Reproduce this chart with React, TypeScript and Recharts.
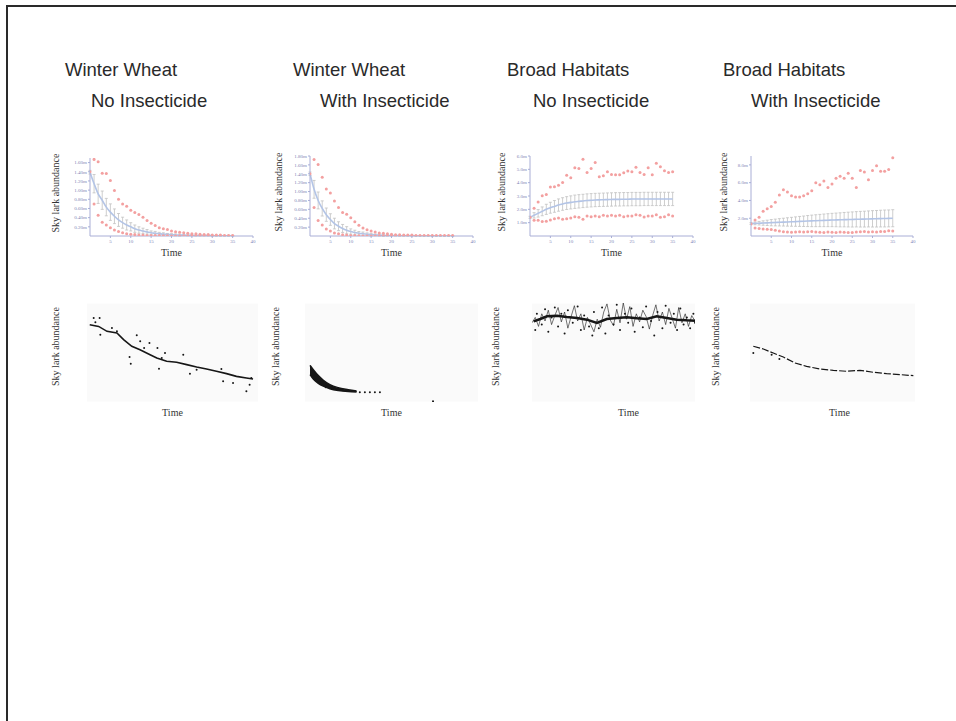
import { ComposedChart, Line, Area, XAxis, YAxis, ErrorBar, CartesianGrid } from 'recharts'

const SERIF = '"Liberation Serif", "Times New Roman", serif'
const SANS = '"Liberation Sans", Arial, sans-serif'
const AXIS = '#a9aed6'
const TICK = '#7d84b5'
const RED = '#f3a0a0'
const BLUE = '#b3c4e6'
const BAR = '#c2c2c2'
const INK = '#161616'

// panel titles
const titleTop = ['Winter Wheat', 'Winter Wheat', 'Broad Habitats', 'Broad Habitats']
const titleSub = ['No Insecticide', 'With Insecticide', 'No Insecticide', 'With Insecticide']

// simulation years (top row)
const T = [0, 1, 2, 3, 4, 5, 6, 7, 8, 9, 10, 11, 12, 13, 14, 15, 16, 17, 18, 19, 20, 21, 22, 23, 24, 25, 26, 27, 28, 29, 30, 31, 32, 33, 34, 35]
const xTicks = [5, 10, 15, 20, 25, 30, 35, 40]

// Winter wheat, no insecticide
const ww0Mean = [1.39, 1.14, 0.92, 0.78, 0.63, 0.52, 0.43, 0.35, 0.29, 0.24, 0.2, 0.16, 0.13, 0.11, 0.09, 0.07, 0.06, 0.05, 0.04, 0.035, 0.03, 0.025, 0.02, 0.02, 0.015, 0.015, 0.01, 0.01, 0.01, 0.01, 0.005, 0.005, 0.005, 0.005, 0.005, 0.005]
const ww0Err = [0.04, 0.2, 0.21, 0.2, 0.19, 0.18, 0.16, 0.14, 0.12, 0.11, 0.09, 0.08, 0.07, 0.06, 0.05, 0.04, 0.04, 0.03, 0.03, 0.02, 0.02, 0.02, 0.02, 0.01, 0.01, 0.01, 0.01, 0.01, 0.01, 0.01, 0.01, 0.01, 0.01, 0.01, 0.01, 0.01]
const ww0Hi = [1.4, 1.67, 1.62, 1.37, 1.36, 1.21, 0.99, 0.8, 0.7, 0.65, 0.56, 0.51, 0.47, 0.41, 0.34, 0.28, 0.23, 0.18, 0.16, 0.14, 0.11, 0.09, 0.08, 0.07, 0.06, 0.05, 0.05, 0.04, 0.03, 0.03, 0.02, 0.02, 0.02, 0.01, 0.01, 0.01]
const ww0Lo = [null, 0.7, 0.45, 0.3, 0.24, 0.18, 0.13, 0.1, 0.07, 0.05, 0.04, 0.03, 0.02, 0.02, 0.01, 0.01, 0.01, 0.01, 0.005, 0.005, 0, 0, 0, 0, 0, 0, 0, 0, 0, 0, 0, 0, 0, 0, 0, 0]

// Winter wheat, with insecticide
const ww1Mean = [1.4, 1.05, 0.8, 0.62, 0.48, 0.37, 0.28, 0.22, 0.17, 0.13, 0.1, 0.08, 0.06, 0.05, 0.04, 0.03, 0.025, 0.02, 0.015, 0.01, 0.01, 0.01, 0.005, 0.005, 0.005, 0.005, 0, 0, 0, 0, 0, 0, 0, 0, 0, 0]
const ww1Err = [0.04, 0.2, 0.19, 0.17, 0.15, 0.13, 0.12, 0.1, 0.09, 0.08, 0.06, 0.05, 0.04, 0.04, 0.03, 0.03, 0.02, 0.02, 0.02, 0.01, 0.01, 0.01, 0.01, 0.01, 0.01, 0.01, 0.01, 0.01, 0.01, 0.01, 0.01, 0.01, 0.01, 0.01, 0.01, 0.01]
const ww1Hi = [1.4, 1.72, 1.61, 1.32, 1.06, 0.97, 0.79, 0.64, 0.53, 0.49, 0.41, 0.32, 0.24, 0.18, 0.14, 0.11, 0.09, 0.07, 0.06, 0.05, 0.04, 0.03, 0.03, 0.02, 0.02, 0.02, 0.01, 0.01, 0.01, 0.01, 0.01, 0.01, 0.01, 0.01, 0.01, 0.01]
const ww1Lo = [null, 0.64, 0.35, 0.25, 0.16, 0.11, 0.07, 0.05, 0.03, 0.02, 0.01, 0.01, 0.005, 0, 0, 0, 0, 0, 0, 0, 0, 0, 0, 0, 0, 0, 0, 0, 0, 0, 0, 0, 0, 0, 0, 0]

// Broad habitats, no insecticide
const bh0Mean = [1.4, 1.55, 1.7, 1.85, 2.0, 2.12, 2.22, 2.32, 2.4, 2.47, 2.52, 2.57, 2.6, 2.63, 2.66, 2.68, 2.7, 2.71, 2.72, 2.73, 2.74, 2.75, 2.75, 2.76, 2.76, 2.77, 2.77, 2.77, 2.78, 2.78, 2.78, 2.78, 2.78, 2.78, 2.78, 2.78]
const bh0Err = [0.08, 0.2, 0.28, 0.33, 0.38, 0.41, 0.44, 0.46, 0.47, 0.48, 0.49, 0.5, 0.5, 0.5, 0.5, 0.5, 0.5, 0.5, 0.5, 0.5, 0.5, 0.5, 0.5, 0.5, 0.5, 0.5, 0.5, 0.5, 0.5, 0.5, 0.5, 0.5, 0.5, 0.5, 0.5, 0.5]
const bh0Hi = [1.4, 2.08, 2.55, 3.02, 3.12, 3.67, 3.7, 3.8, 4.02, 4.55, 4.37, 5.12, 5.07, 5.75, 4.77, 5.07, 5.52, 4.45, 4.52, 4.82, 4.62, 4.6, 4.6, 4.75, 4.87, 4.82, 5.15, 4.77, 4.62, 5.12, 4.6, 5.45, 5.2, 4.9, 4.77, 4.82]
const bh0Lo = [null, 1.18, 1.18, 1.08, 1.1, 1.2, 1.3, 1.35, 1.25, 1.3, 1.35, 1.45, 1.4, 1.25, 1.5, 1.45, 1.5, 1.45, 1.55, 1.5, 1.55, 1.5, 1.55, 1.45, 1.5, 1.5, 1.6, 1.55, 1.42, 1.5, 1.5, 1.6, 1.4, 1.45, 1.6, 1.5]

// Broad habitats, with insecticide
const bh1Mean = [1.4, 1.42, 1.44, 1.46, 1.48, 1.5, 1.52, 1.54, 1.56, 1.58, 1.6, 1.62, 1.64, 1.66, 1.68, 1.7, 1.72, 1.74, 1.76, 1.78, 1.8, 1.81, 1.82, 1.84, 1.85, 1.86, 1.88, 1.89, 1.9, 1.92, 1.93, 1.94, 1.96, 1.97, 1.98, 2.0]
const bh1Err = [0.1, 0.15, 0.2, 0.25, 0.3, 0.35, 0.38, 0.41, 0.44, 0.47, 0.5, 0.53, 0.56, 0.59, 0.62, 0.65, 0.67, 0.69, 0.71, 0.73, 0.75, 0.77, 0.79, 0.81, 0.83, 0.85, 0.86, 0.88, 0.89, 0.9, 0.92, 0.93, 0.94, 0.95, 0.95, 0.96]
const bh1Hi = [1.36, 1.81, 2.11, 2.79, 3.06, 3.32, 3.81, 4.6, 5.2, 4.94, 4.53, 4.38, 4.38, 4.53, 4.75, 5.09, 6.0, 5.77, 6.19, 5.47, 5.85, 6.49, 6.72, 6.49, 7.06, 6.49, 5.47, 7.36, 7.2, 6.34, 7.36, 7.89, 7.28, 7.28, 7.47, 8.79]
const bh1Lo = [null, 0.9, 0.85, 0.8, 0.75, 0.72, 0.65, 0.55, 0.48, 0.45, 0.42, 0.45, 0.48, 0.45, 0.47, 0.5, 0.44, 0.42, 0.4, 0.45, 0.42, 0.4, 0.45, 0.43, 0.4, 0.38, 0.45, 0.48, 0.5, 0.45, 0.48, 0.45, 0.5, 0.5, 0.6, 0.55]

// bottom row: [time, abundance] readings on a 0-100 scale
const ww0Trend = [[1.6, 75.9], [6.8, 74], [11.7, 68.5], [17.5, 66.7], [21.4, 59.3], [26.2, 51.9], [31, 48.1], [36.9, 42.6], [40.8, 38.9], [46.6, 35.2], [52.4, 34.1], [58.3, 31.5], [64.1, 28.9], [69.9, 26.7], [75.7, 24.1], [81.6, 21.5], [87.4, 18.5], [93.2, 16.7], [97.1, 15.6]]
const ww0Dots = [[3.9, 83.3], [7.4, 83.3], [4.9, 78.5], [7.8, 64.8], [14.6, 72.2], [17.5, 68.5], [24.9, 40], [25.6, 32.6], [29.1, 64.1], [31.1, 57.4], [33.4, 50], [36.5, 55.6], [41.2, 50], [42.1, 27], [45.6, 44.4], [43.7, 38.9], [56.3, 42.6], [60.2, 21.5], [64.1, 25.9], [78.6, 26.7], [79.6, 13], [85.4, 11.1], [93.2, 1.9], [95.1, 9.3], [96.1, 16.7]]

const ww1BandT = [2.9, 4.8, 7.7, 10.6, 14.4, 19.2, 25, 29.8]
const ww1BandHi = [30.7, 25.9, 19.3, 14.1, 9.3, 5.9, 3.7, 2.2]
const ww1BandLo = [20.4, 15.5, 10.8, 7.6, 4.8, 2.8, 1.6, 1.2]
const ww1Dots = [[5.5, 15.5], [8.5, 10.5], [12, 6.5], [31.7, 0.7], [34.6, 0.7], [37.5, 0.7], [40.4, 0.7], [43.3, 0.7], [74, -9.3]]

const bh0Trend = [[1, 79.6], [5.1, 82.2], [9.2, 85.2], [15.3, 85.9], [21.4, 84.4], [27.6, 83.3], [33.7, 81.5], [39.8, 77.8], [45.9, 82.2], [52, 83.3], [58.2, 84.1], [64.3, 83], [70.4, 82.2], [76.5, 85.2], [82.7, 83.3], [88.8, 81.5], [94.9, 80.7], [100, 80.4]]
const bh0Noise = [[0, 78], [2, 84], [4, 74], [6, 88], [8, 80], [10, 92], [12, 76], [14, 86], [16, 95], [18, 79], [20, 90], [22, 72], [24, 85], [26, 97], [28, 80], [30, 88], [32, 70], [34, 84], [36, 76], [38, 68], [40, 82], [42, 73], [44, 90], [46, 99], [48, 81], [50, 75], [52, 93], [54, 78], [56, 100], [58, 82], [60, 96], [62, 74], [64, 88], [66, 79], [68, 92], [70, 85], [72, 71], [74, 86], [76, 98], [78, 80], [80, 90], [82, 76], [84, 94], [86, 83], [88, 72], [90, 95], [92, 78], [94, 88], [96, 74], [98, 86], [100, 80]]
const bh0Dots = [[2, 70], [3, 88], [6, 76], [8, 93], [10, 68], [12, 84], [14, 95], [16, 74], [18, 88], [20, 66], [22, 92], [25, 78], [28, 96], [30, 70], [32, 86], [35, 74], [37, 64], [38, 90], [41, 72], [43, 95], [45, 66], [47, 86], [50, 76], [52, 98], [54, 70], [57, 88], [59, 78], [61, 94], [63, 68], [66, 84], [68, 73], [70, 96], [73, 80], [75, 64], [77, 90], [80, 72], [82, 97], [85, 78], [87, 88], [89, 70], [91, 94], [93, 76], [95, 84], [97, 72], [99, 88], [100, 78]]

const bh1Trend = [[2, 51.9], [8.1, 48.9], [14.1, 44.4], [20.2, 40], [27.3, 33.3], [34.3, 29.6], [42.4, 26.7], [50.5, 25.2], [58.6, 24.1], [66.7, 25.2], [74.7, 23], [82.8, 21.5], [90.9, 20.4], [99, 19.3]]
const bh1Dots = [[2, 44.4], [13.1, 42.6], [17.8, 37.8]]

const pts = (arr: number[][]) => arr.map(([t, v]) => ({ t, v }))

const labelStyle = { fontSize: 10, fill: '#333', fontFamily: SERIF }

function TopPanel({ x, y, w, h, labelX, yMax, yTicks, digits, mean, err, hi, lo }: any) {
  const yw = x - labelX + 5
  const mt = 6
  const mr = 10
  const xh = 22
  const data = T.map((t, i) => ({ t, mean: mean[i], err: err[i], hi: hi[i], lo: lo[i] }))
  const tick = { fontSize: 5, fill: TICK, fontFamily: SERIF }
  return (
    <div style={{ position: 'absolute', left: x - yw, top: y - mt }}>
      <ComposedChart width={yw + w + mr} height={mt + h + xh} data={data} margin={{ top: mt, right: mr, bottom: 0, left: 0 }}>
        <XAxis type="number" dataKey="t" domain={[0, 40]} ticks={xTicks} interval={0} allowDataOverflow height={xh}
          stroke={AXIS} tickSize={2} tickMargin={1} tick={tick}
          label={{ value: 'Time', position: 'insideBottom', offset: 2.5, ...labelStyle }} />
        <YAxis type="number" domain={[0, yMax]} ticks={yTicks} interval={0} allowDataOverflow width={yw}
          stroke={AXIS} tickSize={2} tickMargin={1} tick={tick}
          tickFormatter={(v: number) => v.toFixed(digits) + 'm'}
          label={{ value: 'Sky lark abundance', angle: -90, position: 'insideLeft', offset: 5, dy: -4, style: { textAnchor: 'middle' }, ...labelStyle }} />
        <Line dataKey="mean" type="monotone" stroke={BLUE} strokeWidth={1.6} dot={false} isAnimationActive={false}>
          <ErrorBar dataKey="err" width={1.5} stroke={BAR} strokeWidth={0.8} isAnimationActive={false} />
        </Line>
        <Line dataKey="hi" stroke="none" dot={{ r: 1.5, fill: RED, stroke: 'none' }} activeDot={false} isAnimationActive={false} />
        <Line dataKey="lo" stroke="none" dot={{ r: 1.5, fill: RED, stroke: 'none' }} activeDot={false} isAnimationActive={false} />
      </ComposedChart>
    </div>
  )
}

function BottomPanel({ x, y, w, h, labelX, timeDx, data, children }: any) {
  const yw = x - labelX + 5
  const mt = 0
  const mr = 6
  const xh = 16
  return (
    <div style={{ position: 'absolute', left: x - yw, top: y - mt }}>
      <ComposedChart width={yw + w + mr} height={mt + h + xh} data={data} margin={{ top: mt, right: mr, bottom: 0, left: 0 }}>
        <CartesianGrid vertical={false} fill="#fafafa" stroke="#ffffff" />
        <XAxis type="number" dataKey="t" domain={[0, 100]} allowDataOverflow height={xh}
          axisLine={false} tickLine={false} tick={false}
          label={{ value: 'Time', position: 'insideBottom', offset: 2.5, dx: timeDx, ...labelStyle }} />
        <YAxis type="number" domain={[-10, 100]} ticks={[0, 21, 42, 64, 85]} allowDataOverflow width={yw}
          axisLine={false} tickLine={false} tick={false}
          label={{ value: 'Sky lark abundance', angle: -90, position: 'insideLeft', offset: 5, dy: -6, style: { textAnchor: 'middle' }, ...labelStyle }} />
        {children}
      </ComposedChart>
    </div>
  )
}

const dotLine = (arr: number[][], r = 1) => (
  <Line data={pts(arr)} dataKey="v" stroke="none" dot={{ r, fill: INK, stroke: 'none' }} activeDot={false} isAnimationActive={false} />
)

const titleX = [[65, 91], [293, 320], [507, 533], [723, 751]]

export default function App() {
  const bandData = ww1BandT.map((t, i) => ({ t, band: [ww1BandLo[i], ww1BandHi[i]] }))
  const titleCss = {
    position: 'absolute' as const, fontFamily: SANS, fontSize: 18.5, lineHeight: '20px', color: '#2a2a2a',
    whiteSpace: 'nowrap' as const,
  }
  return (
    <div style={{ position: 'absolute', left: 0, top: 0, width: 956, height: 721, overflow: 'hidden', background: '#fff' }}>
      <div style={{ position: 'absolute', left: 6, top: 5, width: 1000, height: 800, borderTop: '2px solid #2a2a2a', borderLeft: '2px solid #2a2a2a' }} />
      {titleTop.map((s, i) => (
        <div key={'a' + i} style={{ ...titleCss, left: titleX[i][0], top: 60 }}>{s}</div>
      ))}
      {titleSub.map((s, i) => (
        <div key={'b' + i} style={{ ...titleCss, left: titleX[i][1], top: 91 }}>{s}</div>
      ))}

      <TopPanel x={90} y={158} w={163} h={78} labelX={55} yMax={1.7} yTicks={[0.2, 0.4, 0.6, 0.8, 1.0, 1.2, 1.4, 1.6]} digits={2}
        mean={ww0Mean} err={ww0Err} hi={ww0Hi} lo={ww0Lo} />
      <TopPanel x={310} y={156} w={163} h={80} labelX={278} yMax={1.8} yTicks={[0.2, 0.4, 0.6, 0.8, 1.0, 1.2, 1.4, 1.6, 1.8]} digits={2}
        mean={ww1Mean} err={ww1Err} hi={ww1Hi} lo={ww1Lo} />
      <TopPanel x={530} y={156} w={163} h={80} labelX={501} yMax={6} yTicks={[1, 2, 3, 4, 5, 6]} digits={1}
        mean={bh0Mean} err={bh0Err} hi={bh0Hi} lo={bh0Lo} />
      <TopPanel x={751} y={156} w={162} h={80} labelX={723} yMax={9} yTicks={[2, 4, 6, 8]} digits={1}
        mean={bh1Mean} err={bh1Err} hi={bh1Hi} lo={bh1Lo} />

      <BottomPanel x={87} y={303} w={171} h={99} labelX={55} timeDx={0}>
        <Line data={pts(ww0Trend)} dataKey="v" stroke={INK} strokeWidth={1.6} dot={false} isAnimationActive={false} />
        {dotLine(ww0Dots)}
      </BottomPanel>
      <BottomPanel x={305} y={303} w={173} h={99} labelX={275} timeDx={0} data={bandData}>
        <Area dataKey="band" type="monotone" fill={INK} fillOpacity={1} stroke={INK} strokeWidth={1.5} isAnimationActive={false} />
        {dotLine(ww1Dots)}
      </BottomPanel>
      <BottomPanel x={532} y={303} w={163} h={99} labelX={495} timeDx={15}>
        <Line data={pts(bh0Noise)} dataKey="v" stroke={INK} strokeWidth={0.6} dot={false} isAnimationActive={false} />
        <Line data={pts(bh0Trend)} dataKey="v" stroke={INK} strokeWidth={2.5} dot={false} isAnimationActive={false} />
        {dotLine(bh0Dots)}
      </BottomPanel>
      <BottomPanel x={750} y={303} w={165} h={99} labelX={715} timeDx={7}>
        <Line data={pts(bh1Trend)} dataKey="v" stroke={INK} strokeWidth={1.2} strokeDasharray="7 2" dot={false} isAnimationActive={false} />
        {dotLine(bh1Dots)}
      </BottomPanel>
    </div>
  )
}
